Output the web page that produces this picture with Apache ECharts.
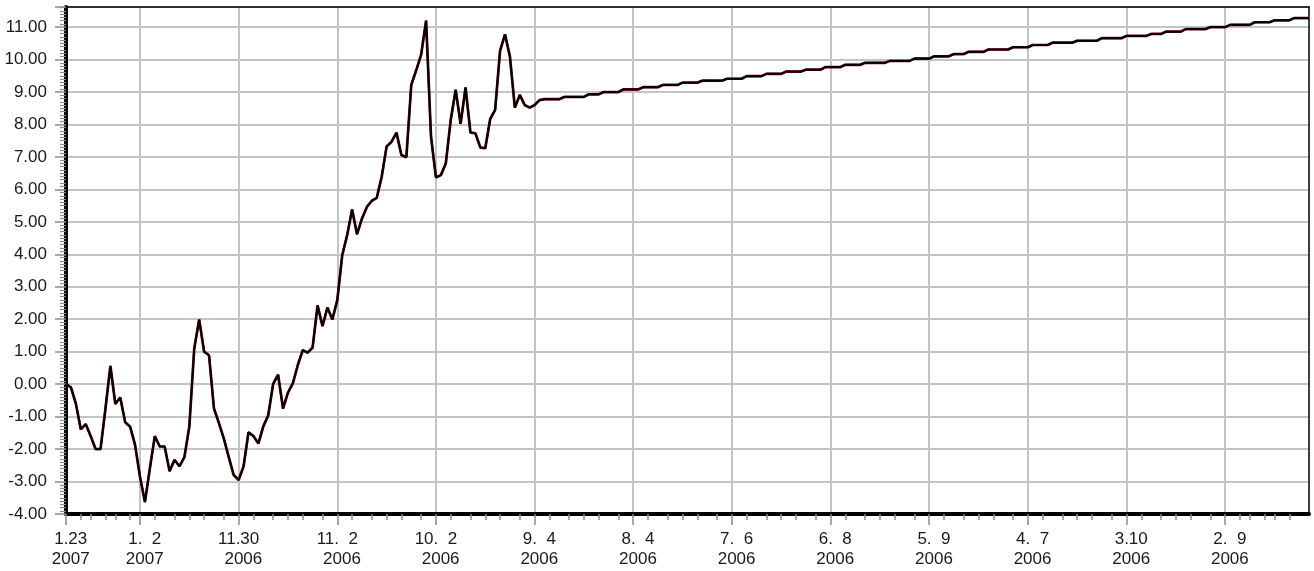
<!DOCTYPE html>
<html><head><meta charset="utf-8">
<script src="https://cdn.jsdelivr.net/npm/echarts@6/dist/echarts.min.js"></script>
<style>html,body{margin:0;padding:0;background:#fff}#c{width:1314px;height:571px}</style>
</head><body><div id="c"></div>
<script>
// Series values, one per trading day, newest (1.23.2007) on the left
const values = [
0.00,-0.10,-0.60,-1.39,-1.23,-1.60,-2.00,-2.00,-0.75,0.56,
-0.61,-0.41,-1.17,-1.31,-1.87,-2.85,-3.63,-2.60,-1.60,-1.92,
-1.92,-2.68,-2.33,-2.53,-2.25,-1.31,1.10,1.99,1.00,0.89,
-0.75,-1.20,-1.68,-2.25,-2.80,-2.95,-2.53,-1.48,-1.60,-1.83,
-1.30,-0.96,0.01,0.29,-0.75,-0.26,0.03,0.59,1.05,0.97,
1.13,2.43,1.79,2.36,1.99,2.59,3.97,4.59,5.38,4.62,
5.10,5.46,5.65,5.74,6.39,7.32,7.47,7.75,7.06,6.99,
9.22,9.67,10.15,11.20,7.63,6.37,6.44,6.80,8.14,9.07,
8.02,9.14,7.75,7.73,7.29,7.27,8.17,8.45,10.27,10.78,
10.09,8.52,8.91,8.60,8.52,8.60,8.75,8.78,8.78,8.78,
8.78,8.85,8.85,8.85,8.85,8.85,8.93,8.93,8.93,9.00,
9.00,9.00,9.00,9.08,9.08,9.08,9.08,9.15,9.15,9.15,
9.15,9.22,9.22,9.22,9.22,9.29,9.29,9.29,9.29,9.35,
9.35,9.35,9.35,9.35,9.41,9.41,9.41,9.41,9.49,9.49,
9.49,9.49,9.56,9.56,9.56,9.56,9.63,9.63,9.63,9.63,
9.69,9.69,9.69,9.69,9.77,9.77,9.77,9.77,9.84,9.84,
9.84,9.84,9.90,9.90,9.90,9.90,9.90,9.96,9.96,9.96,
9.96,9.96,10.03,10.03,10.03,10.03,10.10,10.10,10.10,10.10,
10.17,10.17,10.17,10.24,10.24,10.24,10.24,10.31,10.31,10.31,
10.31,10.31,10.38,10.38,10.38,10.38,10.45,10.45,10.45,10.45,
10.52,10.52,10.52,10.52,10.52,10.58,10.58,10.58,10.58,10.58,
10.66,10.66,10.66,10.66,10.66,10.73,10.73,10.73,10.73,10.73,
10.79,10.79,10.79,10.86,10.86,10.86,10.86,10.94,10.94,10.94,
10.94,10.94,11.00,11.00,11.00,11.00,11.07,11.07,11.07,11.07,
11.07,11.15,11.15,11.15,11.15,11.21,11.21,11.21,11.21,11.28,
11.28,11.28,11.28
];
// Tick labels: index of the labelled day, and its date text (\u2007 = figure space padding)
const tickIndex = [0,15,35,55,75,95,115,135,155,175,195,215,235];
const tickDays  = ['\u20071.23','\u20071.\u20072','11.30','11.\u20072','10.\u20072','\u20079.\u20074','\u20078.\u20074','\u20077.\u20076','\u20076.\u20078','\u20075.\u20079','\u20074.\u20077','\u20073.10','\u20072.\u20079'];
const tickYears = ['\u20072007','\u20072007','\u20072006','\u20072006','\u20072006','\u20072006','\u20072006','\u20072006','\u20072006','\u20072006','\u20072006','\u20072006','\u20072006'];
const yMin = -4, yMax = 11.62, yStep = 1;

const categories = values.map((_, i) => String(i));
const majorSet = new Set(tickIndex);
const minorSet = new Set();
for (let t = 0; t < tickIndex.length; t++) {
  const a = tickIndex[t];
  const b = t + 1 < tickIndex.length ? tickIndex[t + 1] : a + 15;
  for (let k = 1; k <= 5; k++) minorSet.add(Math.round(a + k * (b - a) / 6));
}
const labelOf = {};
tickIndex.forEach((ix, k) => { labelOf[ix] = tickDays[k] + '\n' + tickYears[k]; });

const FONT = '"Liberation Sans", Arial, sans-serif';
const TICK = '#8c8c8c';
const chart = echarts.init(document.getElementById('c'), null, {renderer: 'canvas'});
chart.setOption({
  animation: false,
  backgroundColor: '#fff',
  grid: {left: 66, right: 5, top: 7, bottom: 57, outerBoundsMode: 'none'},
  xAxis: [
    {
      type: 'category', data: categories, boundaryGap: false, position: 'bottom',
      axisLine: {show: true, onZero: false, lineStyle: {color: '#000', width: 4}},
      axisTick: {show: true, length: 11, interval: (i) => majorSet.has(i), lineStyle: {color: TICK, width: 1.5}},
      axisLabel: {
        show: true, interval: (i) => majorSet.has(i), margin: 15,
        formatter: (v, i) => labelOf[i] || '',
        fontFamily: FONT, fontSize: 17, lineHeight: 20, color: '#1a1a1a'
      },
      splitLine: {show: true, interval: (i) => majorSet.has(i), lineStyle: {color: '#c4c4c4', width: 2}}
    },
    {
      type: 'category', data: categories, boundaryGap: false, position: 'bottom',
      axisLine: {show: false, onZero: false},
      axisTick: {show: true, length: 6, interval: (i) => minorSet.has(i), lineStyle: {color: TICK, width: 1.5}},
      axisLabel: {show: false}, splitLine: {show: false}
    },
    {
      type: 'category', data: categories, boundaryGap: false, position: 'top',
      axisLine: {show: true, onZero: false, lineStyle: {color: '#000', width: 1.5}},
      axisTick: {show: false}, axisLabel: {show: false}, splitLine: {show: false}
    }
  ],
  yAxis: [
    {
      type: 'value', min: yMin, max: yMax, interval: yStep, position: 'left',
      axisLine: {show: true, onZero: false, lineStyle: {color: '#000', width: 4}},
      axisTick: {show: true, length: 11, lineStyle: {color: TICK, width: 1.5}},
      minorTick: {show: true, splitNumber: 10, length: 6, lineStyle: {color: TICK, width: 1.2}},
      axisLabel: {
        show: true, margin: 19, showMaxLabel: false,
        formatter: (v) => (Math.abs(v - Math.round(v)) < 1e-6 ? v.toFixed(2) : ''),
        fontFamily: FONT, fontSize: 17, color: '#1a1a1a'
      },
      splitLine: {show: true, lineStyle: {color: '#c4c4c4', width: 2}}
    },
    {
      type: 'value', min: yMin, max: yMax, interval: yStep, position: 'right',
      axisLine: {show: true, onZero: false, lineStyle: {color: '#000', width: 1.5}},
      axisTick: {show: false}, axisLabel: {show: false}, splitLine: {show: false}
    }
  ],
  series: [
    {type: 'line', data: values, xAxisIndex: 0, yAxisIndex: 0, symbol: 'none', z: 3,
     lineStyle: {color: '#7a0000', width: 2.7}},
    {type: 'line', data: values, xAxisIndex: 0, yAxisIndex: 0, symbol: 'none', z: 4,
     lineStyle: {color: '#000', width: 2}}
  ]
});
</script></body></html>
